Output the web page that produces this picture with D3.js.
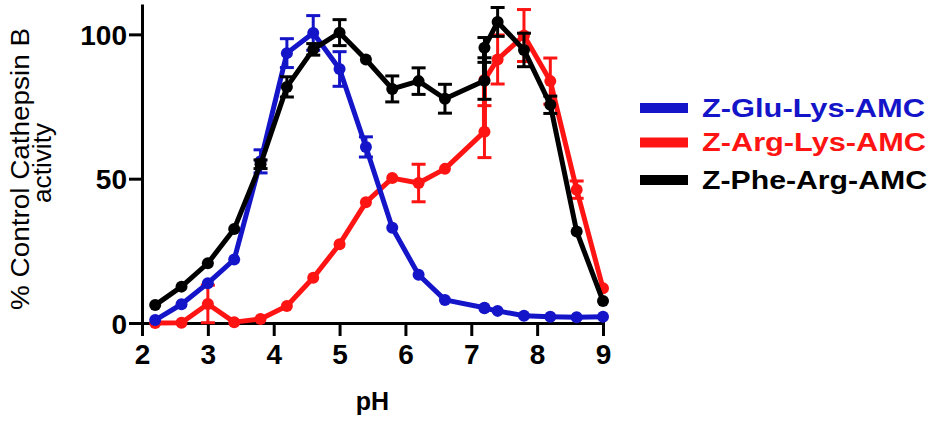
<!DOCTYPE html>
<html>
<head>
<meta charset="utf-8">
<script src="https://cdn.jsdelivr.net/npm/d3@7"></script>
<style>
  html, body { margin: 0; padding: 0; background: #fff; }
  svg { display: block; }
  text { font-family: "Liberation Sans", Arial, Helvetica, sans-serif; }
</style>
</head>
<body>
<svg id="chart" width="936" height="421"></svg>
<script>
// ---- data ----
const ph = [2.2, 2.6, 3.0, 3.4, 3.8, 4.2, 4.6, 5.0, 5.4, 5.8, 6.2, 6.6, 7.2, 7.2, 7.4, 7.8, 8.2, 8.6, 9.0];

const seriesNames = ["Z-Glu-Lys-AMC", "Z-Arg-Lys-AMC", "Z-Phe-Arg-AMC"];
const seriesColors = ["#1414c8", "#ff1414", "#000000"];

const gluLys = [1.0, 6.5, 13.8, 22.0, 56.0, 93.5, 100.5, 88.0, 61.0, 33.0, 16.7, 8.0, 5.3, 5.1, 4.2, 2.5, 2.2, 2.0, 2.2];
const gluLysErr = [0, 0, 0, 0, 4, 5, 6, 6, 3.5, 0, 0, 0, 0, 0, 0, 0, 0, 0, 0];

const argLys = [0, 0.1, 6.6, 0.3, 1.4, 5.9, 15.7, 27.3, 41.8, 50.2, 48.5, 53.4, 66.3, 84.2, 91.3, 99.6, 83.8, 46.2, 12.0];
const argLysErr = [0, 0, 6.5, 0, 0, 0, 0, 0, 0, 0, 6.5, 0, 9, 0, 8.5, 9, 8, 3, 0];

const pheArg = [6.2, 12.6, 20.7, 32.6, 55.0, 81.8, 94.8, 100.6, 91.3, 81.1, 83.8, 77.7, 83.9, 95.4, 104.3, 94.6, 75.6, 31.7, 7.6];
const pheArgErr = [0, 0, 0, 0, 1.5, 3.5, 2, 4.5, 0, 4.5, 4.6, 5, 6.4, 3.5, 5, 5.8, 3, 0, 0];

const xTicks = [2, 3, 4, 5, 6, 7, 8, 9];
const xMinorTicks = [2.5, 3.5, 4.5, 5.5, 6.5, 7.5, 8.5];
const yTicks = [0, 50, 100];
const yMinorTicks = [25, 75];

const xTitle = "pH";
const yTitle1 = "% Control Cathepsin B";
const yTitle2 = "activity";

// ---- chart ----
const svg = d3.select("#chart");
const x = d3.scaleLinear().domain([2, 9]).range([142, 603]);
const y = d3.scaleLinear().domain([0, 110]).range([323, 5.5]);

// axes
const xAxisG = svg.append("g").attr("transform", `translate(0,${y(0)})`);
xAxisG.call(d3.axisBottom(x).tickValues(xMinorTicks).tickSize(7).tickSizeOuter(0).tickFormat(""));
xAxisG.call(d3.axisBottom(x).tickValues(xTicks).tickSize(13).tickSizeOuter(0).tickFormat(d3.format("d")).tickPadding(8));

const yAxisG = svg.append("g").attr("transform", `translate(${x(2)},0)`);
yAxisG.call(d3.axisLeft(y).tickValues(yMinorTicks).tickSize(8).tickSizeOuter(0).tickFormat(""));
yAxisG.call(d3.axisLeft(y).tickValues(yTicks).tickSize(13).tickSizeOuter(0).tickFormat(d3.format("d")).tickPadding(2));

svg.selectAll(".domain").attr("stroke", "#000").attr("stroke-width", 3).attr("stroke-linecap", "square");
svg.selectAll(".tick line").attr("stroke", "#000").attr("stroke-width", 3);
svg.selectAll(".tick text")
  .attr("fill", "#000")
  .style("font-size", "28px")
  .style("font-weight", "bold")
  .style("font-family", "'Liberation Sans', Arial, sans-serif");
yAxisG.selectAll(".tick text").attr("dy", "0.36em");
xAxisG.selectAll(".tick text").attr("dy", "0.72em");

// axis titles
svg.append("text")
  .attr("x", x(5.5)).attr("y", 410)
  .attr("text-anchor", "middle")
  .style("font-size", "25px").style("font-weight", "bold")
  .text(xTitle);

svg.append("text")
  .attr("transform", "translate(29,169) rotate(-90)")
  .attr("text-anchor", "middle")
  .attr("textLength", 282).attr("lengthAdjust", "spacingAndGlyphs")
  .style("font-size", "26px")
  .text(yTitle1);
svg.append("text")
  .attr("transform", "translate(51,163) rotate(-90)")
  .attr("text-anchor", "middle")
  .attr("textLength", 80).attr("lengthAdjust", "spacingAndGlyphs")
  .style("font-size", "26px")
  .text(yTitle2);

// series (draw order: red, blue, black)
const series = [
  { name: seriesNames[1], color: seriesColors[1], vals: argLys, err: argLysErr },
  { name: seriesNames[0], color: seriesColors[0], vals: gluLys, err: gluLysErr },
  { name: seriesNames[2], color: seriesColors[2], vals: pheArg, err: pheArgErr }
];

const line = d3.line().x(d => x(d.x)).y(d => y(d.y));

series.forEach(s => {
  const pts = ph.map((p, i) => ({ x: p, y: s.vals[i], e: s.err[i] }));
  const g = svg.append("g");
  // error bars
  const eb = g.selectAll(".eb").data(pts.filter(d => d.e > 0)).enter().append("g");
  eb.append("line")
    .attr("x1", d => x(d.x)).attr("x2", d => x(d.x))
    .attr("y1", d => y(d.y + d.e)).attr("y2", d => y(Math.max(0, d.y - d.e)))
    .attr("stroke", s.color).attr("stroke-width", 3);
  eb.append("line")
    .attr("x1", d => x(d.x) - 7).attr("x2", d => x(d.x) + 7)
    .attr("y1", d => y(d.y + d.e)).attr("y2", d => y(d.y + d.e))
    .attr("stroke", s.color).attr("stroke-width", 3);
  eb.append("line")
    .attr("x1", d => x(d.x) - 7).attr("x2", d => x(d.x) + 7)
    .attr("y1", d => y(d.y - d.e)).attr("y2", d => y(d.y - d.e))
    .attr("stroke", s.color).attr("stroke-width", 3)
    .attr("display", d => d.y - d.e < 0 ? "none" : null);
  // line
  g.append("path").datum(pts)
    .attr("d", line)
    .attr("fill", "none")
    .attr("stroke", s.color)
    .attr("stroke-width", 5)
    .attr("stroke-linejoin", "round");
  // markers
  g.selectAll("circle").data(pts).enter().append("circle")
    .attr("cx", d => x(d.x)).attr("cy", d => y(d.y)).attr("r", 6)
    .attr("fill", s.color);
});

// legend
const legendY = [108, 142.5, 180];
const legendTextLen = [223, 224, 225];
seriesNames.forEach((n, i) => {
  svg.append("line")
    .attr("x1", 640).attr("x2", 688)
    .attr("y1", legendY[i]).attr("y2", legendY[i])
    .attr("stroke", seriesColors[i]).attr("stroke-width", 10);
  svg.append("text")
    .attr("x", 702).attr("y", legendY[i] + 8.5)
    .attr("textLength", legendTextLen[i]).attr("lengthAdjust", "spacingAndGlyphs")
    .attr("fill", seriesColors[i])
    .style("font-size", "25px").style("font-weight", "bold")
    .text(n);
});
</script>
</body>
</html>
